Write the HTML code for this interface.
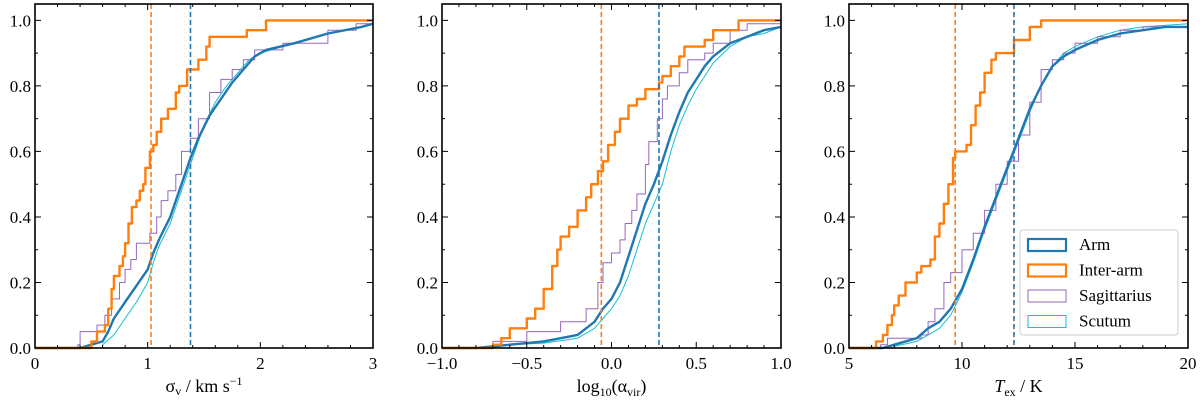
<!DOCTYPE html>
<html><head><meta charset="utf-8"><style>
body{margin:0;background:#fff;}
svg{display:block;font-family:"Liberation Serif",serif;}
</style></head><body>
<svg id="fig" width="1200" height="400" viewBox="0 0 1200 400"></svg>
<script>
// ---- data ----
const p1Inter=[[0.45,0],[0.5,0.02],[0.55,0.05],[0.62,0.07],[0.65,0.12],[0.68,0.18],[0.7,0.22],[0.75,0.25],[0.78,0.28],[0.8,0.32],[0.83,0.38],[0.86,0.43],[0.9,0.45],[0.93,0.48],[0.96,0.5],[0.98,0.55],[1.02,0.6],[1.05,0.62],[1.08,0.66],[1.12,0.7],[1.18,0.73],[1.25,0.78],[1.28,0.8],[1.35,0.85],[1.45,0.88],[1.52,0.92],[1.55,0.95],[1.88,0.97],[2.05,1.0],[3,1.0]];
const p1Sag=[[0.38,0.01],[0.4,0.05],[0.55,0.07],[0.62,0.1],[0.68,0.15],[0.75,0.2],[0.8,0.24],[0.85,0.27],[0.9,0.32],[1.02,0.35],[1.08,0.4],[1.12,0.45],[1.18,0.48],[1.25,0.53],[1.3,0.6],[1.38,0.64],[1.45,0.7],[1.55,0.78],[1.65,0.82],[1.75,0.85],[1.85,0.88],[1.95,0.91],[2.2,0.93],[2.6,0.97],[2.85,0.99],[3,0.99]];
const p1Arm=[[0.4,0],[0.5,0.01],[0.6,0.02],[0.65,0.05],[0.7,0.09],[0.8,0.14],[0.9,0.19],[1.0,0.24],[1.05,0.29],[1.1,0.33],[1.2,0.4],[1.3,0.5],[1.38,0.58],[1.45,0.64],[1.55,0.71],[1.65,0.76],[1.75,0.81],[1.85,0.85],[1.95,0.89],[2.05,0.91],[2.3,0.93],[2.6,0.96],[2.9,0.98],[3,0.99]];
const p1Scu=[[0.6,0.01],[0.7,0.04],[0.8,0.09],[0.9,0.14],[1.0,0.2],[1.05,0.26],[1.1,0.31],[1.2,0.38],[1.3,0.48],[1.4,0.58],[1.5,0.68],[1.6,0.75],[1.7,0.8],[1.8,0.84],[1.9,0.88],[2.0,0.9],[2.3,0.93],[2.6,0.96],[2.9,0.98],[3,0.99]];
const p1Medians=[1.03,1.38];
const p2Inter=[[-0.7,0.01],[-0.65,0.03],[-0.6,0.06],[-0.5,0.09],[-0.45,0.12],[-0.4,0.18],[-0.35,0.25],[-0.32,0.3],[-0.3,0.34],[-0.25,0.37],[-0.2,0.42],[-0.15,0.46],[-0.12,0.5],[-0.08,0.54],[-0.05,0.57],[-0.02,0.62],[0.02,0.66],[0.05,0.7],[0.1,0.74],[0.15,0.76],[0.2,0.79],[0.28,0.81],[0.3,0.83],[0.35,0.86],[0.4,0.89],[0.43,0.92],[0.55,0.94],[0.6,0.97],[0.75,1.0],[1,1]];
const p2Sag=[[-0.7,0.02],[-0.5,0.05],[-0.3,0.08],[-0.15,0.12],[-0.08,0.2],[-0.05,0.26],[0,0.29],[0.05,0.33],[0.08,0.38],[0.12,0.42],[0.15,0.47],[0.2,0.56],[0.22,0.63],[0.27,0.7],[0.3,0.76],[0.33,0.8],[0.4,0.84],[0.45,0.88],[0.55,0.9],[0.6,0.93],[0.7,0.97],[0.8,0.99],[1,0.99]];
const p2Arm=[[-0.8,0],[-0.6,0.01],[-0.4,0.02],[-0.2,0.04],[-0.1,0.08],[-0.05,0.12],[0,0.15],[0.05,0.2],[0.1,0.28],[0.15,0.36],[0.2,0.44],[0.25,0.5],[0.3,0.57],[0.35,0.65],[0.4,0.72],[0.45,0.78],[0.5,0.82],[0.55,0.86],[0.6,0.89],[0.7,0.93],[0.8,0.95],[0.9,0.97],[1.0,0.98]];
const p2Scu=[[-0.8,0],[-0.6,0.01],[-0.4,0.015],[-0.2,0.03],[-0.1,0.06],[-0.05,0.09],[0,0.12],[0.05,0.16],[0.1,0.22],[0.15,0.3],[0.2,0.38],[0.25,0.44],[0.3,0.5],[0.35,0.6],[0.4,0.68],[0.45,0.74],[0.5,0.79],[0.55,0.83],[0.6,0.87],[0.7,0.92],[0.8,0.95],[0.9,0.96],[1,0.98]];
const p2Medians=[-0.06,0.28];
const p3Inter=[[6.2,0.02],[6.5,0.04],[6.7,0.07],[6.9,0.1],[7.0,0.13],[7.2,0.16],[7.5,0.2],[8.0,0.23],[8.2,0.25],[8.6,0.27],[8.8,0.34],[9.0,0.38],[9.2,0.44],[9.4,0.5],[9.6,0.58],[9.7,0.6],[10.2,0.62],[10.4,0.68],[10.6,0.74],[10.8,0.78],[11.0,0.84],[11.3,0.88],[11.5,0.9],[12.3,0.94],[13.0,0.98],[13.5,1.0],[20,1.0]];
const p3Sag=[[6.4,0.01],[6.7,0.03],[8.2,0.04],[8.5,0.08],[8.8,0.12],[9.2,0.2],[9.5,0.23],[10,0.3],[10.5,0.35],[11,0.42],[11.5,0.5],[12,0.57],[12.5,0.65],[13,0.75],[13.5,0.85],[14,0.88],[14.5,0.9],[15,0.93],[16,0.95],[17,0.97],[18,0.98],[20,0.99]];
const p3Arm=[[6.5,0],[7,0.01],[8,0.03],[8.5,0.06],[9,0.08],[9.5,0.12],[10,0.18],[10.5,0.27],[11,0.37],[11.5,0.46],[12,0.55],[12.5,0.64],[13,0.73],[13.5,0.8],[14,0.86],[14.5,0.89],[15,0.91],[16,0.94],[17,0.96],[18,0.97],[19,0.98],[20,0.98]];
const p3Scu=[[7,0.005],[8,0.02],[8.5,0.04],[9,0.06],[9.5,0.1],[10,0.17],[10.5,0.26],[11,0.36],[11.5,0.45],[12,0.54],[12.5,0.63],[13,0.72],[13.5,0.8],[14,0.86],[14.5,0.9],[15,0.92],[16,0.95],[17,0.97],[18,0.98],[20,0.99]];
const p3Medians=[9.7,12.3];
const legendLabels=["Arm","Inter-arm","Sagittarius","Scutum"];

const NS="http://www.w3.org/2000/svg";
const svg=document.getElementById('fig');
const C={arm:"#1f77b4",inter:"#ff7f0e",sag:"#9467bd",scu:"#17becf"};
function el(tag,attrs,parent){const e=document.createElementNS(NS,tag);for(const k in attrs)e.setAttribute(k,attrs[k]);(parent||svg).appendChild(e);return e;}

const panels=[
 {x0:35,x1:373,xmin:0,xmax:3,major:[0,1,2,3],minor:0.2,lab:["0","1","2","3"],series:[p1Scu,p1Sag,p1Arm,p1Inter],med:p1Medians,xl:'σ<tspan font-size="12" dy="3">v</tspan><tspan dy="-3"> / km s</tspan><tspan font-size="12" dy="-7">−1</tspan>',name:"sigma-panel"},
 {x0:442,x1:781,xmin:-1,xmax:1,major:[-1,-0.5,0,0.5,1],minor:0.1,lab:["−1.0","−0.5","0.0","0.5","1.0"],series:[p2Scu,p2Sag,p2Arm,p2Inter],med:p2Medians,xl:'log<tspan font-size="12" dy="4">10</tspan><tspan dy="-4">(α</tspan><tspan font-size="12" dy="4">vir</tspan><tspan dy="-4">)</tspan>',name:"alpha-panel"},
 {x0:849,x1:1188,xmin:5,xmax:20,major:[5,10,15,20],minor:1,lab:["5","10","15","20"],series:[p3Scu,p3Sag,p3Arm,p3Inter],med:p3Medians,xl:'<tspan font-style="italic">T</tspan><tspan font-size="12" dy="4">ex</tspan><tspan dy="-4"> / K</tspan>',name:"tex-panel"}
];
const yTop=4,yBot=348,ymax=1.05;
const ys=v=>yBot-(v/ymax)*(yBot-yTop);
const cols=[C.scu,C.sag,C.arm,C.inter];
const widths=[1,1,2.4,2.4];
const stepped=[false,true,false,true];
const snames=["scutum-cdf","sagittarius-cdf","arm-cdf","inter-arm-cdf"];

panels.forEach((p)=>{
 const g=el('g',{});
 
 
 const xs=v=>p.x0+(v-p.xmin)/(p.xmax-p.xmin)*(p.x1-p.x0);
 p.series.forEach((s,i)=>{
  let d="M"+p.x0+","+ys(0);
  if(stepped[i]){
   s.forEach(pt=>{d+=" H"+xs(pt[0]).toFixed(1)+" V"+ys(pt[1]).toFixed(1);});
  } else {
   d+=" L"+xs(s[0][0]).toFixed(1)+","+ys(0);
   s.forEach(pt=>{d+=" L"+xs(pt[0]).toFixed(1)+","+ys(pt[1]).toFixed(1);});
  }
  d+=" H"+p.x1;
  const path=el('path',{d:d,fill:"none",stroke:cols[i],"stroke-width":widths[i],"stroke-linejoin":"round"},g);
  
  
 });
 [C.inter,C.arm].forEach((c,i)=>{
  const l=el('line',{x1:xs(p.med[i]),x2:xs(p.med[i]),y1:yTop,y2:yBot,stroke:c,"stroke-width":1.6,"stroke-dasharray":"5,3"},g);
  
  
 });
 let tk="";
 for(let v=p.xmin;v<=p.xmax+1e-9;v+=p.minor){const x=xs(v);tk+=`M${x},${yBot}v-3M${x},${yTop}v3`;}
 p.major.forEach(v=>{const x=xs(v);tk+=`M${x},${yBot}v-6M${x},${yTop}v6`;});
 for(let i=0;i<=10;i++){const y=ys(i/10);tk+=`M${p.x0},${y}h3M${p.x1},${y}h-3`;}
 for(let i=0;i<=5;i++){const y=ys(i/5);tk+=`M${p.x0},${y}h6M${p.x1},${y}h-6`;}
 el('path',{d:tk,stroke:"#000","stroke-width":1,fill:"none"},g);
 const fr=el('rect',{x:p.x0,y:yTop,width:p.x1-p.x0,height:yBot-yTop,fill:"none",stroke:"#000","stroke-width":1.6},g);
 
 
 p.major.forEach((v,i)=>{
  const t=el('text',{x:xs(v),y:369,"font-size":17,"text-anchor":"middle"},g);
  
  
  t.textContent=p.lab[i];
 });
 for(let i=0;i<=5;i++){
  const t=el('text',{x:p.x0-4,y:ys(i/5)+6,"font-size":17,"text-anchor":"end"},g);
  
  
  t.textContent=(i/5).toFixed(1);
 }
 const xt=el('text',{x:(p.x0+p.x1)/2,y:392,"font-size":18,"text-anchor":"middle"},g);
 
 
 xt.innerHTML=p.xl;
});
const lg=el('g',{});


el('rect',{x:1020,y:230,width:158,height:105,rx:3,fill:"#fff","fill-opacity":0.85,stroke:"#ccc","stroke-width":1},lg);
const lc=[C.arm,C.inter,C.sag,C.scu],lw=[2.2,2.2,1,1];
legendLabels.forEach((t,i)=>{
 const y=245+i*25.5;
 const r=el('rect',{x:1028,y:y-6,width:38,height:12,fill:"none",stroke:lc[i],"stroke-width":lw[i]},lg);
 
 
 const tx=el('text',{x:1079,y:y+5,"font-size":17},lg);
 
 
 tx.textContent=t;
});
</script>
</body></html>
